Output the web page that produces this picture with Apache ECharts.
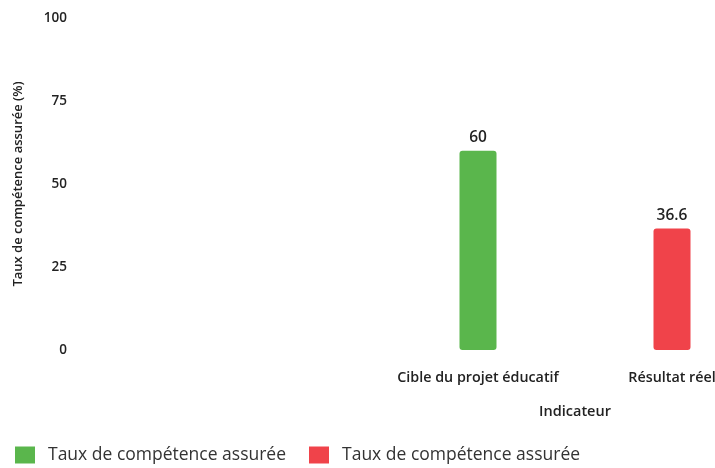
<!DOCTYPE html>
<html><head><meta charset="utf-8">
<script src="https://cdn.jsdelivr.net/npm/echarts@6/dist/echarts.min.js"></script>
<style>html,body{margin:0;padding:0;background:#fff}#c{width:715px;height:468px}</style>
</head><body><div id="c"></div>
<script>
const categories = ['Cible du projet éducatif', 'Résultat réel'];
const seriesLabel = 'Taux de compétence assurée';
const targetValues = [60, null];
const actualValues = [null, 36.6];
const yTicks = [0, 25, 50, 75, 100];
const xName = 'Indicateur';
const yName = 'Taux de compétence assurée (%)';

const font = '"Open Sans", "Noto Sans", sans-serif';
const chart = echarts.init(document.getElementById('c'));
chart.setOption({
  backgroundColor: '#fff',
  animation: false,
  grid: { left: 478, right: 43, top: 18, bottom: 118, containLabel: false, outerBoundsMode: 'none' },
  legend: {
    left: 15, top: 446, padding: 0, itemWidth: 20, itemHeight: 17, itemGap: 23,
    icon: 'rect',
    textStyle: { fontFamily: font, fontSize: 17.5, color: '#333', padding: [0, 0, 0, 8] },
    formatter: () => seriesLabel,
    data: ['s1', 's2']
  },
  xAxis: {
    type: 'category', data: categories, boundaryGap: false,
    axisLine: { show: false }, axisTick: { show: false }, splitLine: { show: false },
    axisLabel: { fontFamily: font, fontSize: 14.3, fontWeight: 600, color: '#222', margin: 21,
      interval: 0, showMinLabel: true, showMaxLabel: true, hideOverlap: false },
    name: xName, nameLocation: 'middle', nameGap: 54,
    nameTextStyle: { fontFamily: font, fontSize: 14.5, fontWeight: 600, color: '#222' }
  },
  yAxis: {
    type: 'value', min: yTicks[0], max: yTicks[yTicks.length - 1], interval: 25,
    axisLine: { show: false }, axisTick: { show: false }, splitLine: { show: false },
    axisLabel: { fontFamily: font, fontSize: 13.5, fontWeight: 600, color: '#222', margin: 411 },
    name: yName, nameLocation: 'middle', nameGap: 453,
    nameTextStyle: { fontFamily: font, fontSize: 13, fontWeight: 600, color: '#222' }
  },
  series: [
    { name: 's1', type: 'bar', data: targetValues, barWidth: 37, barGap: '-100%',
      itemStyle: { color: '#5ab64c', borderRadius: 3 },
      label: { show: true, position: 'top', distance: 5, fontFamily: font, fontSize: 15.5, fontWeight: 600, color: '#222' } },
    { name: 's2', type: 'bar', data: actualValues, barWidth: 37, barGap: '-100%',
      itemStyle: { color: '#f0434a', borderRadius: 3 },
      label: { show: true, position: 'top', distance: 5, fontFamily: font, fontSize: 15.5, fontWeight: 600, color: '#222' } }
  ]
});
</script></body></html>
